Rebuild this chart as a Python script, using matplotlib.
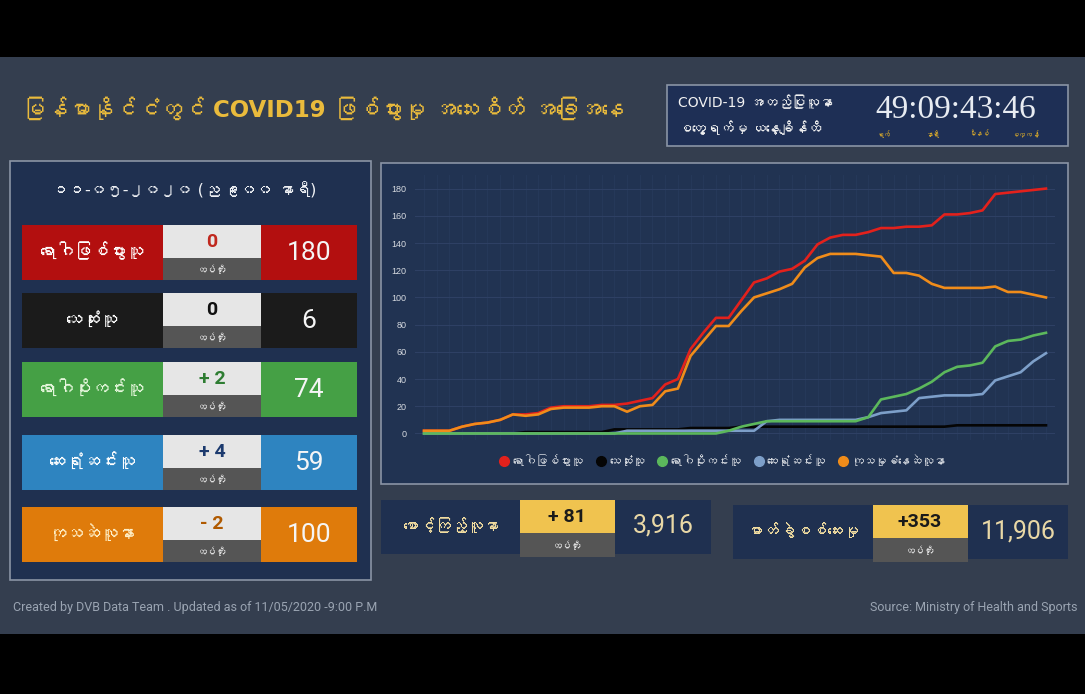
import numpy as np
import matplotlib
matplotlib.use('Agg')
from matplotlib import pyplot as plt
from matplotlib import font_manager as fm
from matplotlib.patches import Rectangle
from matplotlib.lines import Line2D
from matplotlib.ft2font import FT2Font

# daily series, 23 Mar - 11 May 2020
confirmed = [2, 2, 2, 5, 7, 8, 10, 14, 14, 15,
             19, 20, 20, 20, 21, 21, 22, 24, 26, 36,
             40, 62, 74, 85, 85, 98, 111, 114, 119, 121,
             127, 139, 144, 146, 146, 148, 151, 151, 152, 152,
             153, 161, 161, 162, 164, 176, 177, 178, 179, 180]
deaths = [0, 0, 0, 0, 0, 0, 0, 0, 1, 1,
          1, 1, 1, 1, 1, 3, 3, 3, 3, 3,
          3, 4, 4, 4, 4, 5, 5, 5, 5, 5,
          5, 5, 5, 5, 5, 5, 5, 5, 5, 5,
          5, 5, 6, 6, 6, 6, 6, 6, 6, 6]
virus_free = [0, 0, 0, 0, 0, 0, 0, 0, 0, 0,
              0, 0, 0, 0, 0, 0, 0, 0, 0, 0,
              0, 0, 0, 0, 2, 5, 7, 9, 9, 9,
              9, 9, 9, 9, 9, 12, 25, 27, 29, 33,
              38, 45, 49, 50, 52, 64, 68, 69, 72, 74]
discharged = [0, 0, 0, 0, 0, 0, 0, 0, 0, 0,
              0, 0, 0, 0, 0, 0, 2, 2, 2, 2,
              2, 2, 2, 2, 2, 2, 2, 9, 10, 10,
              10, 10, 10, 10, 10, 12, 15, 16, 17, 26,
              27, 28, 28, 28, 29, 39, 42, 45, 53, 59]
active = [2, 2, 2, 5, 7, 8, 10, 14, 13, 14,
          18, 19, 19, 19, 20, 20, 16, 20, 21, 31,
          33, 57, 68, 79, 79, 90, 100, 103, 106, 110,
          122, 129, 132, 132, 132, 131, 130, 118, 118, 116,
          110, 107, 107, 107, 107, 108, 104, 104, 102, 100]

series_names = ['ရောဂါဖြစ်ပွားသူ', 'သေဆုံးသူ', 'ရောဂါပိုးကင်းသူ', 'ဆေးရုံဆင်းသူ', 'ကုသမှုခံနေဆဲလူနာ']
series_colors = ['#e3211c', '#050505', '#5cb85c', '#7d9fc9', '#f08c1a']

# summary table
row_labels = ['ရောဂါဖြစ်ပွားသူ', 'သေဆုံးသူ', 'ရောဂါပိုးကင်းသူ', 'ဆေးရုံဆင်းသူ', 'ကုသဆဲလူနာ']
row_deltas = ['0', '0', '+ 2', '+ 4', '- 2']
row_totals = ['180', '6', '74', '59', '100']
row_fill = ['#b30f0f', '#1b1b1b', '#45a045', '#2e84c0', '#df7b0b']
row_delta_col = ['#c0281e', '#111111', '#2e7d32', '#1c3a6e', '#b05a00']
row_label_col = ['#ffffff', '#ffffff', '#e6f7dc', '#ffffff', '#fff0c8']

extra_labels = ['စောင့်ကြည့်လူနာ', 'ဓာတ်ခွဲစစ်ဆေးမှု']
extra_deltas = ['+ 81', '+353']
extra_totals = ['3,916', '11,906']

timer = '49:09:43:46'
timer_units = ['ရက်', 'နာရီ', 'မိနစ်', 'စက္ကန့်']

# find a font with Myanmar glyphs, used after DejaVu for those characters
mm_font = None
for f in fm.fontManager.ttflist:
    try:
        if 0x1019 in FT2Font(f.fname).get_charmap():
            mm_font = f.name
            break
    except Exception:
        pass
MY = ['DejaVu Sans', mm_font] if mm_font else ['DejaVu Sans']
NARROW = ['Liberation Sans Narrow', 'Roboto', 'DejaVu Sans']
plt.rcParams['font.family'] = MY

BG = '#343e4f'
NAVY = '#1f3050'
BORDER = '#8a94a5'
GOLD = '#eabb3c'

fig = plt.figure(figsize=(10.85, 6.94), dpi=100)
fig.patch.set_facecolor('black')
bg = fig.add_axes([0, 0, 1, 1])
bg.set_xlim(0, 1085)
bg.set_ylim(694, 0)
bg.axis('off')

def box(x0, y0, x1, y1, fc, ec='none', lw=0):
    bg.add_patch(Rectangle((x0, y0), x1 - x0, y1 - y0, facecolor=fc, edgecolor=ec, linewidth=lw))

def txt(x, y, s, size, color, ha='center', weight='normal', family=None):
    bg.text(x, y, s, fontsize=size, color=color, ha=ha, va='center',
            fontweight=weight, family=family or MY)

box(0, 57, 1085, 634, BG)

# title
txt(22, 110, 'မြန်မာနိုင်ငံတွင် COVID19 ဖြစ်ပွားမှု အသေးစိတ် အခြေအနေ', 16.5, GOLD, ha='left', weight='bold')

# timer box
box(667, 85, 1068, 146, '#1e2f55', BORDER, 1.2)
txt(678, 103, 'COVID-19 အတည်ပြုလူနာ', 10, '#f2f2f2', ha='left')
txt(678, 129, 'စတွေ့ရက်မှ ယနေ့ချိန်ထိ', 10, '#f2f2f2', ha='left')
txt(956, 110, timer, 24, '#e8ecf2', family=['Liberation Serif', 'DejaVu Serif'])
for ux, u in zip([883, 933, 979, 1025], timer_units):
    txt(ux, 134, u, 5, '#d4a72c')

# left summary panel
box(10, 161, 371, 580, NAVY, BORDER, 1.2)
txt(185, 190, '၁၁-၀၅-၂၀၂၀ (ည ၉း၀၀ နာရီ)', 11.5, '#eef0f4')
row_tops = [225, 293, 362, 435, 507]
for i in range(5):
    t = row_tops[i]
    b = t + 55
    box(22, t, 163, b, row_fill[i])
    box(163, t, 261, t + 33, '#e6e6e6')
    box(163, t + 33, 261, b, '#555555')
    box(261, t, 357, b, row_fill[i])
    txt(92, t + 27, row_labels[i], 12.5, row_label_col[i])
    txt(212, t + 17, row_deltas[i], 14, row_delta_col[i], weight='bold', family=['Roboto', 'DejaVu Sans'])
    txt(212, t + 45, 'ထပ်တိုး', 7, '#e0e0e0')
    txt(309, t + 28, row_totals[i], 19, '#f5f5f5', family=['Roboto', 'DejaVu Sans'])

# bottom boxes
for x0, x1, yo, lab, d, tot in [(381, 711, 500, extra_labels[0], extra_deltas[0], extra_totals[0]),
                                (733, 1068, 505, extra_labels[1], extra_deltas[1], extra_totals[1])]:
    box(x0, yo, x1, yo + 54, NAVY)
    yx = x0 + 139 if x0 < 700 else x0 + 140
    box(yx, yo, yx + 95, yo + 33, '#f0c34f')
    box(yx, yo + 33, yx + 95, yo + 57, '#555555')
    txt((x0 + yx) / 2, yo + 26, lab, 11.5, '#f1dca0')
    txt(yx + 47, yo + 17, d, 14, '#1a1a1a', weight='bold', family=['Roboto', 'DejaVu Sans'])
    txt(yx + 47, yo + 46, 'ထပ်တိုး', 7, '#e0e0e0')
    txt((yx + 95 + x1) / 2, yo + 26, tot, 18, '#e9d8a6', family=NARROW)

# footer
txt(13, 607, 'Created by DVB Data Team . Updated as of 11/05/2020 -9:00 P.M', 9, '#9aa4b2', ha='left', family=NARROW)
txt(1077, 607, 'Source: Ministry of Health and Sports', 9, '#9aa4b2', ha='right', family=NARROW)

# chart panel
box(381, 163, 1068, 484, '#213352', BORDER, 1.2)
W, H = 1085.0, 694.0
L, R, T, B = 415, 1055, 175, 440
ax = fig.add_axes([L / W, 1 - B / H, (R - L) / W, (B - T) / H])
ax.set_facecolor('none')
days = np.arange(len(confirmed))
for vals, col, z in [(deaths, series_colors[1], 2),
                     (confirmed, series_colors[0], 3),
                     (discharged, series_colors[3], 4),
                     (virus_free, series_colors[2], 5),
                     (active, series_colors[4], 6)]:
    ax.plot(days, vals, color=col, lw=1.9, zorder=z, solid_joinstyle='round')
ax.set_xlim(-0.71, 49.71)
ax.set_ylim(-4.8, 190)
ax.set_yticks(range(0, 181, 20))
ax.set_xticks(days)
ax.tick_params(axis='x', length=0, labelbottom=False)
ax.tick_params(axis='y', length=0, labelsize=6.5, labelcolor='#d6dae0', pad=6)
ax.grid(axis='y', color='#2e4064', lw=0.8)
ax.grid(axis='x', color='#26395a', lw=0.7)
ax.set_axisbelow(True)
for s in ax.spines.values():
    s.set_visible(False)
for lbl in ax.get_yticklabels():
    lbl.set_family(['Liberation Sans', 'DejaVu Sans'])

handles = [Line2D([], [], marker='o', ls='none', color=series_colors[i], markersize=7) for i in range(5)]
fig.legend(handles, series_names, loc='center', bbox_to_anchor=(722 / W, 1 - 462 / H), ncol=5,
           frameon=False, fontsize=8.5, labelcolor='#d6dae0', handletextpad=0.2, columnspacing=1.0,
           handlelength=1.0)

fig.savefig('out.png', dpi=100, facecolor=fig.get_facecolor())
